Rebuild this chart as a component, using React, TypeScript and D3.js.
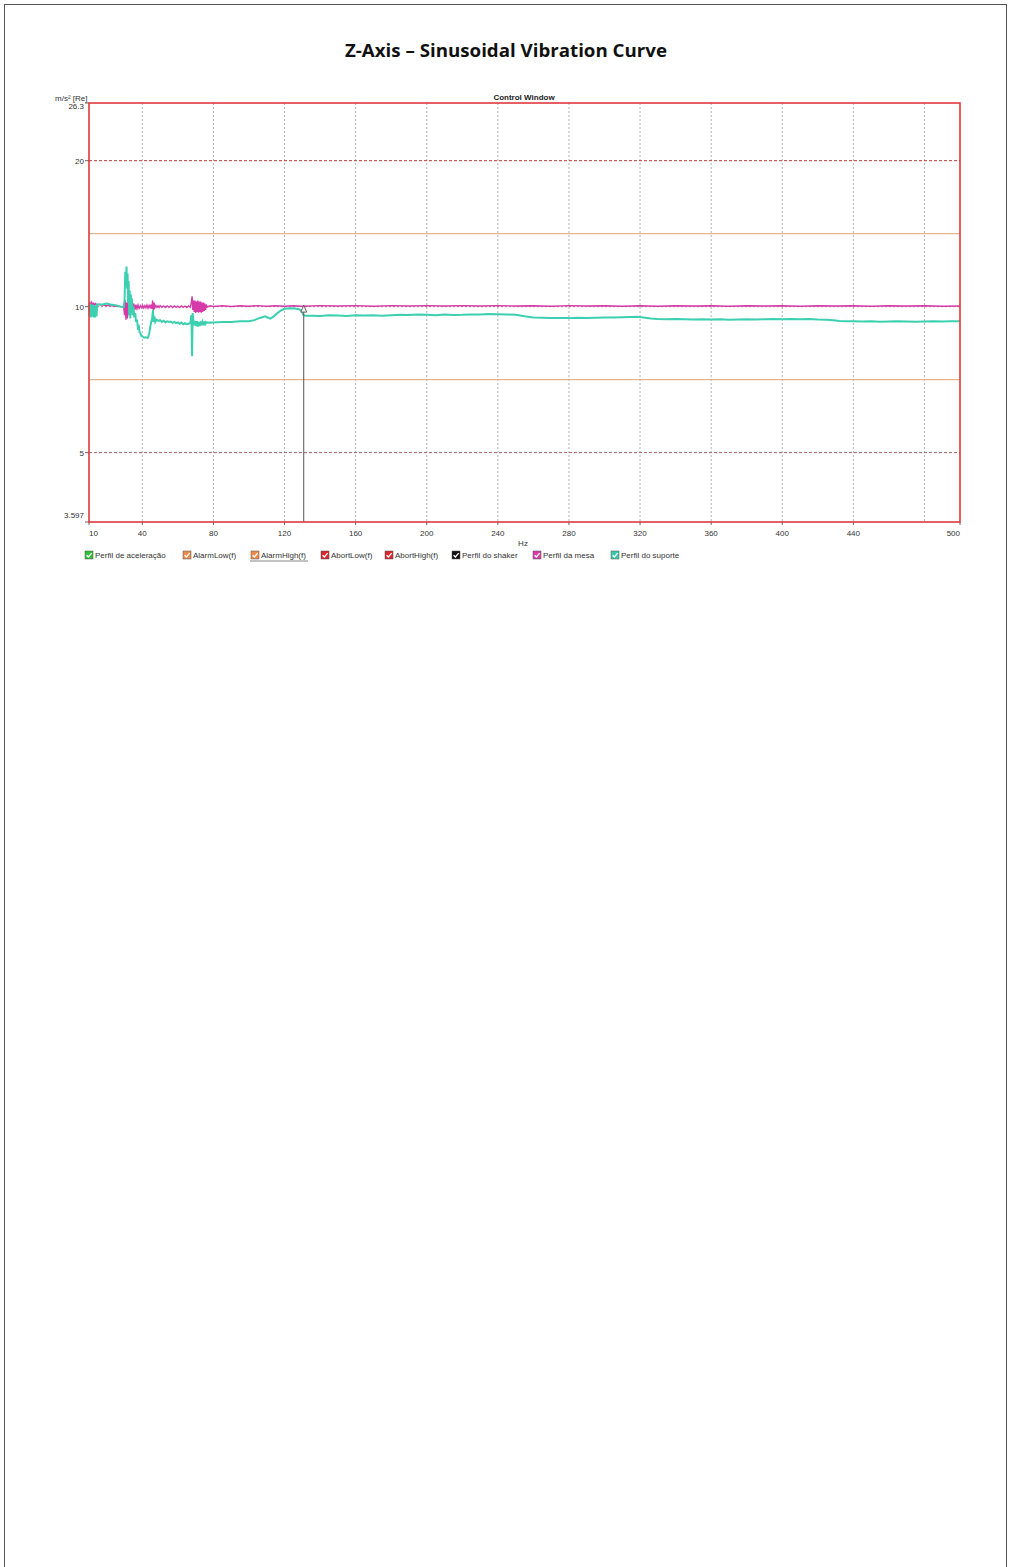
import React from "react";
import * as d3 from "d3";

// ---- data ----
const xTicks = [10, 40, 80, 120, 160, 200, 240, 280, 320, 360, 400, 440, 500];
const xGrid = [40, 80, 120, 160, 200, 240, 280, 320, 360, 400, 440, 480];
const yTicks = [26.3, 20, 10, 5, 3.597];
const yDomain = [3.597, 26.3];
const xDomain = [10, 500];
const alarmHigh = 14.14;
const alarmLow = 7.07;
const abortHigh = 20;
const abortLow = 5;
const cursorHz = 130.8;
const cursorVal = 9.93;

// Perfil do suporte (teal) [Hz, m/s²]
const suporte: [number, number][] = [
  [10, 10.1], [10.3, 9.55], [10.6, 10.15], [11, 9.5], [11.4, 10.1], [11.8, 9.55], [12.2, 10.1],
  [12.6, 9.5], [13, 10.05], [13.4, 9.5], [13.8, 10.05], [14.2, 9.55], [14.6, 10.1],
  [16, 10.1], [18, 10.12], [20, 10.15], [22, 10.1], [24, 10.08], [26, 10.05], [28, 10.0], [29.5, 9.98],
  [30, 10.3], [30.4, 11.8], [30.8, 11.2], [31.1, 12.1], [31.4, 10.9], [31.7, 11.7], [32, 10.2],
  [32.3, 11.3], [32.6, 9.6], [32.9, 10.8], [33.2, 9.45], [33.5, 10.6], [33.8, 9.8], [34.1, 10.4],
  [34.5, 9.6], [35, 10.0], [35.5, 9.5], [36, 9.7], [36.5, 9.3], [37, 9.4], [37.5, 9.05], [38, 9.1],
  [38.5, 8.85], [39, 8.8], [39.5, 8.7], [40, 8.68], [41, 8.63], [42, 8.65], [43, 8.62], [43.5, 8.7],
  [44, 8.85], [44.5, 9.1], [45, 9.3], [45.5, 9.45], [46, 9.85], [46.3, 9.3], [46.8, 9.55], [47.3, 9.3],
  [48, 9.4], [49, 9.35], [50, 9.38], [51, 9.3], [52, 9.35], [53, 9.28], [54, 9.33], [55, 9.3],
  [56, 9.32], [57, 9.26], [58, 9.3], [59, 9.25], [60, 9.28], [61, 9.22], [62, 9.27], [63, 9.2],
  [64, 9.25], [65, 9.2], [66, 9.22], [67, 9.25], [67.6, 9.6], [68, 7.9], [68.3, 9.7], [68.8, 9.3],
  [69.3, 9.15], [69.8, 9.35], [70.3, 9.12], [70.8, 9.33], [71.3, 9.1], [71.8, 9.3], [72.3, 9.12],
  [72.8, 9.32], [73.3, 9.15], [73.8, 9.3], [74.3, 9.15], [74.8, 9.32], [75.3, 9.15], [75.8, 9.3],
  [76.5, 9.27], [80, 9.28], [85, 9.3], [90, 9.3], [95, 9.33], [100, 9.33], [103, 9.38], [105, 9.45],
  [107, 9.5], [109, 9.55], [110.5, 9.5], [112, 9.45], [114, 9.55], [116, 9.7], [118, 9.82], [120, 9.9],
  [123, 9.92], [126, 9.91], [128, 9.88], [129.5, 9.82], [130.5, 9.62], [131.5, 9.58], [135, 9.58],
  [140, 9.57], [145, 9.6], [150, 9.59], [155, 9.57], [160, 9.6], [165, 9.59], [170, 9.6], [175, 9.58],
  [180, 9.6], [185, 9.62], [190, 9.61], [195, 9.63], [200, 9.62], [205, 9.6], [210, 9.63], [215, 9.61],
  [220, 9.62], [225, 9.64], [230, 9.63], [235, 9.66], [240, 9.65], [245, 9.64], [250, 9.62],
  [255, 9.55], [260, 9.5], [265, 9.49], [270, 9.48], [275, 9.47], [280, 9.47], [285, 9.49], [290, 9.48],
  [295, 9.49], [300, 9.5], [305, 9.5], [310, 9.51], [315, 9.52], [318, 9.53], [322, 9.5], [326, 9.45],
  [330, 9.43], [335, 9.42], [340, 9.43], [345, 9.42], [350, 9.41], [355, 9.42], [360, 9.41],
  [365, 9.42], [370, 9.4], [375, 9.41], [380, 9.42], [385, 9.41], [390, 9.42], [395, 9.43], [400, 9.42],
  [405, 9.43], [410, 9.42], [415, 9.43], [420, 9.41], [425, 9.4], [430, 9.36], [432, 9.34], [436, 9.33],
  [440, 9.33], [445, 9.32], [450, 9.33], [455, 9.31], [460, 9.32], [465, 9.33], [470, 9.32],
  [475, 9.31], [480, 9.32], [485, 9.33], [490, 9.32], [495, 9.33], [500, 9.33],
];

// Perfil da mesa (magenta) [Hz, m/s²]
const mesa: [number, number][] = [
  [10, 10.1], [10.5, 10.2], [11, 10.05], [11.5, 10.2], [12, 10.05], [12.5, 10.15], [13, 10.05],
  [13.5, 10.15], [14, 10.1], [16, 10.1], [18, 10.08], [20, 10.05], [22, 10.05], [24, 10.03],
  [26, 10.02], [28, 10.0], [29.5, 10.0], [30, 9.6], [30.4, 10.3], [30.8, 9.4], [31.2, 10.2],
  [31.6, 9.45], [32, 10.25], [32.4, 9.6], [32.8, 10.35], [33.2, 9.75], [33.6, 10.4], [34, 9.8],
  [34.4, 10.2], [34.8, 9.9], [35.2, 10.15], [35.8, 9.85], [36.4, 10.1], [37, 9.9], [37.6, 10.08],
  [38.2, 9.92], [39, 10.05], [39.6, 9.95], [40.2, 10.06], [40.8, 9.94], [41.4, 10.05], [42, 9.95],
  [42.6, 10.08], [43.2, 9.93], [43.8, 10.06], [44.4, 9.95], [45, 10.1], [45.4, 9.9], [45.8, 10.3],
  [46.2, 9.85], [46.6, 10.2], [47, 9.95], [47.6, 10.05], [48.2, 9.96], [48.8, 10.04], [49.4, 9.96],
  [50, 10.05], [51, 9.97], [52, 10.04], [53, 9.96], [54, 10.04], [55, 9.97], [56, 10.04], [57, 9.96],
  [58, 10.04], [59, 9.97], [60, 10.03], [61, 9.96], [62, 10.04], [63, 9.97], [64, 10.03], [65, 9.96],
  [66, 10.04], [67, 9.97], [67.6, 10.2], [68, 10.5], [68.4, 9.85], [68.8, 10.3], [69.2, 9.75],
  [69.6, 10.3], [70, 9.7], [70.4, 10.25], [70.8, 9.75], [71.2, 10.3], [71.6, 9.72], [72, 10.25],
  [72.4, 9.75], [72.8, 10.25], [73.2, 9.72], [73.6, 10.2], [74, 9.75], [74.4, 10.2], [74.8, 9.8],
  [75.2, 10.15], [75.6, 9.85], [76, 10.1], [76.5, 9.98], [78, 10.04], [80, 10.01], [85, 10.04],
  [90, 10.01], [95, 10.04], [100, 10.02], [105, 10.05], [110, 10.02], [115, 10.04], [120, 10.02],
  [125, 10.04], [130, 10.02], [140, 10.05], [150, 10.03], [160, 10.05], [170, 10.02], [180, 10.05],
  [190, 10.03], [200, 10.05], [210, 10.03], [220, 10.05], [230, 10.03], [240, 10.05], [250, 10.03],
  [260, 10.04], [270, 10.02], [280, 10.05], [290, 10.03], [300, 10.04], [310, 10.02], [320, 10.04],
  [330, 10.02], [340, 10.04], [350, 10.03], [360, 10.04], [370, 10.02], [380, 10.04], [390, 10.03],
  [400, 10.04], [410, 10.02], [420, 10.04], [430, 10.03], [440, 10.04], [450, 10.02], [460, 10.04],
  [470, 10.03], [480, 10.04], [490, 10.02], [500, 10.03],
];

const legendLabels = [
  "Perfil de aceleração", "AlarmLow(f)", "AlarmHigh(f)", "AbortLow(f)", "AbortHigh(f)",
  "Perfil do shaker", "Perfil da mesa", "Perfil do suporte",
];
const legendColors = ["#2fbf3a", "#ec8a4c", "#ec8a4c", "#d8262a", "#d8262a", "#111111", "#d63aa8", "#3cc8a8"];
const legendX = [85, 183, 251, 321, 385, 452, 533, 611];

const W = 1011;
const H = 1567;
const M = { left: 89, right: 960, top: 103, bottom: 522 };
const FONT = "'Liberation Sans', Arial, sans-serif";

export default function App() {
  const x = d3.scaleLinear().domain(xDomain).range([M.left, M.right]);
  const y = d3.scaleLog().domain(yDomain).range([M.bottom, M.top]);
  const line = d3
    .line<[number, number]>()
    .x((d) => x(d[0]))
    .y((d) => y(d[1]));

  const cx = x(cursorHz);
  const cy = y(cursorVal);

  return (
    <svg
      width={W}
      height={H}
      style={{ position: "absolute", left: 0, top: 0, background: "#fff" }}
    >
      <rect x={0} y={0} width={W} height={H} fill="#fff" />
      {/* page frame */}
      <rect x={4.5} y={4.5} width={1002} height={H + 20} fill="none" stroke="#555" strokeWidth={1} />

      <text
        x={506}
        y={57}
        textAnchor="middle"
        fontFamily="'Open Sans', 'Noto Sans', sans-serif"
        fontWeight="bold"
        fontSize={17}
        textLength={322}
        lengthAdjust="spacingAndGlyphs"
        fill="#111"
      >
        Z-Axis – Sinusoidal Vibration Curve
      </text>

      <g fontFamily={FONT}>
        <text x={524} y={100} textAnchor="middle" fontSize={8} fontWeight="bold" fill="#222">
          Control Window
        </text>
        <text x={55} y={101} fontSize={8} fill="#333">
          m/s² [Re]
        </text>

        {/* vertical grid */}
        {xGrid.map((v) => (
          <line
            key={"gx" + v}
            x1={x(v)}
            x2={x(v)}
            y1={M.top}
            y2={M.bottom}
            stroke="#b0b0b0"
            strokeWidth={1}
            strokeDasharray="2,2"
          />
        ))}
        {/* horizontal grid at 10 */}
        <line x1={M.left} x2={M.right} y1={y(10)} y2={y(10)} stroke="#b08080" strokeDasharray="2,2" />

        {/* alarm lines */}
        <line x1={M.left} x2={M.right} y1={y(alarmHigh)} y2={y(alarmHigh)} stroke="#e8b48a" strokeWidth={1.2} />
        <line x1={M.left} x2={M.right} y1={y(alarmLow)} y2={y(alarmLow)} stroke="#e8b48a" strokeWidth={1.2} />
        {/* abort lines */}
        <line x1={M.left} x2={M.right} y1={y(abortHigh)} y2={y(abortHigh)} stroke="#b83a3a" strokeWidth={1} strokeDasharray="3,2" />
        <line x1={M.left} x2={M.right} y1={y(abortLow)} y2={y(abortLow)} stroke="#a06060" strokeWidth={1} strokeDasharray="3,2" />

        {/* y ticks */}
        {yTicks.map((v, i) => {
          const yy = y(v);
          const ly = i === 0 ? yy + 6 : i === yTicks.length - 1 ? yy - 4 : yy + 3;
          return (
            <g key={"yt" + v}>
              <line x1={M.left - 4} x2={M.left} y1={yy} y2={yy} stroke="#666" />
              <text x={84} y={ly} textAnchor="end" fontSize={8} fill="#333">
                {v}
              </text>
            </g>
          );
        })}

        {/* x ticks */}
        {xTicks.map((v, i) => {
          const xx = x(v);
          const anchor = i === 0 ? "start" : i === xTicks.length - 1 ? "end" : "middle";
          return (
            <g key={"xt" + v}>
              <line x1={xx} x2={xx} y1={M.bottom} y2={M.bottom + 3} stroke="#666" />
              <text x={xx} y={536} textAnchor={anchor} fontSize={8} fill="#333">
                {v}
              </text>
            </g>
          );
        })}
        <text x={523} y={546} textAnchor="middle" fontSize={8} fill="#333">
          Hz
        </text>

        {/* series */}
        <path d={line(mesa) || ""} fill="none" stroke="#d63aa8" strokeWidth={1.4} />
        <path d={line(suporte) || ""} fill="none" stroke="#3cd0b0" strokeWidth={2} />

        {/* cursor */}
        <line x1={cx} x2={cx} y1={cy + 4} y2={M.bottom} stroke="#555" strokeWidth={1} />
        <path
          d={`M${cx},${cy - 3} L${cx - 3},${cy + 4} L${cx + 3},${cy + 4} Z`}
          fill="#eee"
          stroke="#444"
          strokeWidth={0.8}
        />

        {/* frame */}
        <rect
          x={M.left}
          y={M.top}
          width={M.right - M.left}
          height={M.bottom - M.top}
          fill="none"
          stroke="#e0383c"
          strokeWidth={1.6}
        />

        {/* legend */}
        {legendLabels.map((lab, i) => (
          <g key={"lg" + i} transform={`translate(${legendX[i]},551)`}>
            <rect x={0} y={0} width={8} height={8} fill={legendColors[i]} stroke="#555" strokeWidth={0.5} />
            <path d="M1.6,4.2 L3.4,6 L6.6,2.2" fill="none" stroke="#fff" strokeWidth={1.3} />
            <text x={10} y={7} fontSize={8} fill="#333">
              {lab}
            </text>
            {i === 2 && <line x1={-1} x2={57} y1={10} y2={10} stroke="#666" strokeWidth={0.8} />}
          </g>
        ))}
      </g>
    </svg>
  );
}
